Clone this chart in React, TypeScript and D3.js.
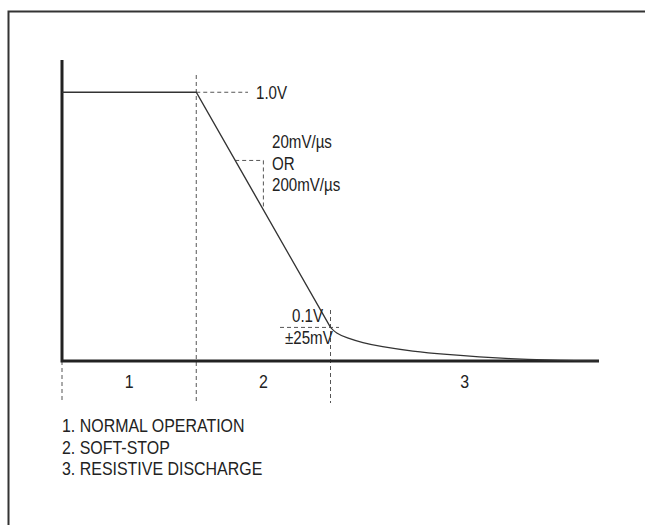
import React, { useEffect, useRef } from 'react'
import * as d3 from 'd3'

// phase boundaries (time units) and labels
const phaseEdges = [0, 1, 2, 4]
const phaseLabels = ['1', '2', '3']
const legendItems = ['1. NORMAL OPERATION', '2. SOFT-STOP', '3. RESISTIVE DISCHARGE']

// output voltage: normal operation + soft-stop ramp (straight segments)
const rampTime = [0, 1, 2]
const rampVolts = [1.0, 1.0, 0.125]

// resistive discharge tail
const tailTime = [2, 2.04, 2.12, 2.24, 2.37, 2.61, 2.87, 3.11, 3.34, 3.56, 4.0]
const tailVolts = [0.125, 0.104, 0.086, 0.068, 0.054, 0.036, 0.024, 0.015, 0.009, 0.004, 0.0]

// slope marker spans between these times on the ramp
const slopeMarkT = [1.29, 1.5]
const slopeText = ['20mV/µs', 'OR', '200mV/µs']
const knotText = ['0.1V', '±25mV']

const W = 645
const H = 525
const FONT = '"Liberation Sans", Arial, Helvetica, sans-serif'
const SQUEEZE = 0.84 // no narrow face installed, so condense horizontally
const INK = '#222'
const DASH = '#555'

const App: React.FC = () => {
  const ref = useRef<HTMLDivElement>(null)

  useEffect(() => {
    if (!ref.current) return
    document.body.style.margin = '0'

    const svg = d3
      .select(ref.current)
      .append('svg')
      .attr('width', W)
      .attr('height', H)
      .style('display', 'block')
      .style('background', '#fff')

    const x = d3.scaleLinear().domain([0, 4]).range([62, 599])
    const y = d3.scaleLinear().domain([0, 1.12]).range([361, 60])

    // frame (top + left only)
    svg
      .append('path')
      .attr('d', `M${W},11.5 H8.5 V${H}`)
      .attr('fill', 'none')
      .attr('stroke', '#333')
      .attr('stroke-width', 2)

    const dashed = (x1: number, y1: number, x2: number, y2: number) =>
      svg
        .append('line')
        .attr('x1', x1)
        .attr('y1', y1)
        .attr('x2', x2)
        .attr('y2', y2)
        .attr('stroke', DASH)
        .attr('stroke-width', 1)
        .attr('stroke-dasharray', '4,3')

    // phase boundary markers
    dashed(x(phaseEdges[0]), y(0), x(phaseEdges[0]), 403)
    dashed(x(phaseEdges[1]), 75, x(phaseEdges[1]), 403)
    dashed(x(phaseEdges[2]), 310, x(phaseEdges[2]), 403)

    // level markers
    dashed(x(1), y(1.0), 248, y(1.0))
    dashed(280, y(rampVolts[2]), 339, y(rampVolts[2]))

    // slope marker
    const rampAt = d3.scaleLinear().domain([1, 2]).range([rampVolts[1], rampVolts[2]])
    const [s0, s1] = slopeMarkT
    dashed(x(s0), y(rampAt(s0)), x(s1), y(rampAt(s0)))
    dashed(x(s1), y(rampAt(s0)), x(s1), y(rampAt(s1)))

    // axes
    svg
      .append('path')
      .attr('d', `M${x(0)},${y(1.12)} V${y(0)} H${x(4)}`)
      .attr('fill', 'none')
      .attr('stroke', INK)
      .attr('stroke-width', 3)

    // waveform
    const ramp = d3
      .line<number>()
      .x(d => x(rampTime[d]))
      .y(d => y(rampVolts[d]))
    svg
      .append('path')
      .attr('d', ramp(d3.range(rampTime.length)))
      .attr('fill', 'none')
      .attr('stroke', '#333')
      .attr('stroke-width', 1.3)

    const tail = d3
      .line<number>()
      .x(d => x(tailTime[d]))
      .y(d => y(tailVolts[d]))
      .curve(d3.curveBasis)
    svg
      .append('path')
      .attr('d', tail(d3.range(tailTime.length)))
      .attr('fill', 'none')
      .attr('stroke', '#333')
      .attr('stroke-width', 1.2)

    const text = (tx: number, ty: number, s: string, size = 18, anchor = 'start') =>
      svg
        .append('text')
        .attr('transform', `translate(${tx},${ty}) scale(${SQUEEZE},1)`)
        .attr('fill', INK)
        .attr('font-family', FONT)
        .attr('font-size', size)
        .attr('text-anchor', anchor)
        .text(s)

    text(256, 99, '1.0V')
    slopeText.forEach((s, i) => text(272, 148 + i * 21.5, s))
    text(292, 322, knotText[0])
    text(285, 344, knotText[1])

    phaseLabels.forEach((s, i) =>
      text(x((phaseEdges[i] + phaseEdges[i + 1]) / 2), 388, s, 19, 'middle')
    )

    legendItems.forEach((s, i) => text(62, 432 + i * 21.5, s, 19))

    return () => {
      svg.remove()
    }
  }, [])

  return <div ref={ref} style={{ width: W, height: H }} />
}

export default App
